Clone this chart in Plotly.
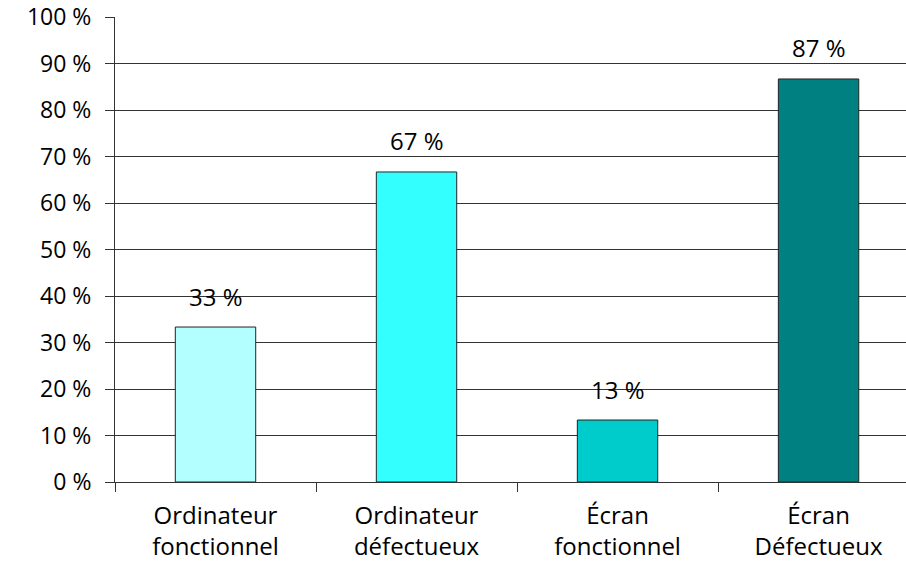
import plotly.graph_objects as go

categories = ["Ordinateur<br>fonctionnel", "Ordinateur<br>défectueux", "Écran<br>fonctionnel", "Écran<br>Défectueux"]
values = [33.33, 66.67, 13.33, 86.67]
labels = ["33 %", "67 %", "13 %", "87 %"]
colors = ["#B3FFFF", "#33FFFF", "#00CCCC", "#008080"]
y_ticks = list(range(0, 101, 10))
y_tick_text = [f"{v} %" for v in y_ticks]

FONT = "'Open Sans', Lato, sans-serif"

fig = go.Figure()
fig.add_trace(go.Bar(
    x=categories, y=values,
    marker=dict(color=colors, line=dict(color="#222222", width=1)),
    width=0.4,
    hoverinfo="skip",
    cliponaxis=False,
))

for c, v, t in zip(categories, values, labels):
    fig.add_annotation(x=c, y=v, text=t, showarrow=False, yanchor="middle",
                       yshift=31, font=dict(family=FONT, size=24, color="#000000"))

fig.update_layout(
    width=906, height=562,
    margin=dict(l=115, r=0, t=17, b=80),
    plot_bgcolor="white", paper_bgcolor="white",
    showlegend=False,
    font=dict(family=FONT, size=23, color="#000000"),
)
fig.update_xaxes(
    type="category",
    range=[-0.5, 3.435],
    automargin=False,
    tickson="boundaries",
    ticks="outside", ticklen=9, tickcolor="#333333", tickwidth=1,
    showline=True, linecolor="#333333", linewidth=1,
    showgrid=False,
    tickfont=dict(family=FONT, size=24),
    ticklabelstandoff=12,
)
fig.update_yaxes(
    range=[0, 100],
    automargin=False,
    tickvals=y_ticks,
    ticktext=y_tick_text,
    ticklabeloverflow="allow",
    ticks="outside", ticklen=9, tickcolor="#333333", tickwidth=1,
    showline=True, linecolor="#333333", linewidth=1,
    showgrid=True, gridcolor="#333333", gridwidth=1,
    zeroline=False,
    tickfont=dict(family=FONT, size=23),
    ticklabelstandoff=9,
)

fig.write_html("out.html", config={"displayModeBar": False},
               post_script="document.body.style.margin='0';")
